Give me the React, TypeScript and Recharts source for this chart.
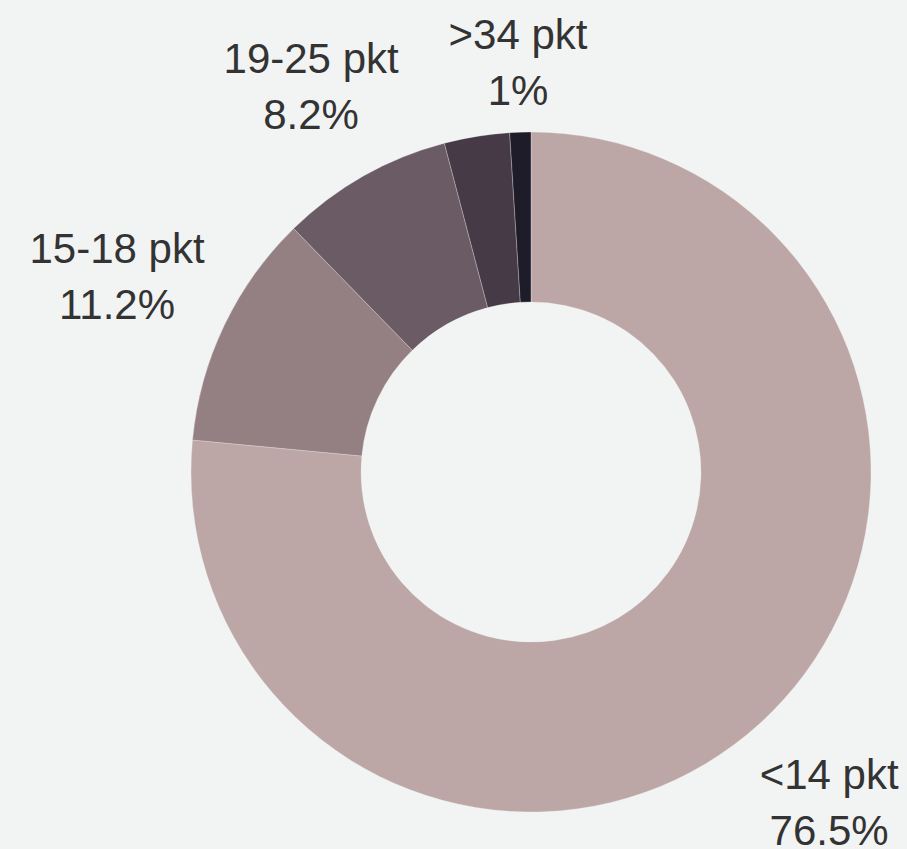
import React from 'react';
import { PieChart, Pie, Cell } from 'recharts';

const categories = ['<14 pkt', '15-18 pkt', '19-25 pkt', '26-34 pkt', '>34 pkt'];
const shares = [76.5, 11.2, 8.2, 3.1, 1];
const labelShown = [true, true, true, false, true];
const colors = ['#bda6a6', '#947f83', '#6b5b65', '#463a47', '#1e1c29'];

const data = categories.map((name, i) => ({ name, value: shares[i], show: labelShown[i], color: colors[i] }));

const FONT_SIZE = 42;
const LINE_H = 56;
const BG = '#f2f3f3';

const charW: Record<string, number> = {
  '0': 0.556, '1': 0.556, '2': 0.556, '3': 0.556, '4': 0.556, '5': 0.556, '6': 0.556, '7': 0.556, '8': 0.556, '9': 0.556,
  '-': 0.333, ' ': 0.278, p: 0.556, k: 0.5, t: 0.278, '<': 0.584, '>': 0.584, '.': 0.278, '%': 0.889,
};
const textWidth = (s: string) => s.split('').reduce((a, c) => a + (charW[c] ?? 0.556), 0) * FONT_SIZE;

const RAD = Math.PI / 180;

const renderLabel = (props: any) => {
  const { cx, cy, midAngle, outerRadius, name, value, index } = props;
  if (!data[index] || !data[index].show) return null;
  const ux = Math.cos(-midAngle * RAD);
  const uy = Math.sin(-midAngle * RAD);
  const l1 = String(name);
  const l2 = `${value}%`;
  const w = Math.max(textWidth(l1), textWidth(l2));
  const h = 106;
  const dist = outerRadius + 17 + (w / 2) * Math.abs(ux) + (h / 2) * Math.abs(uy);
  const x = cx + dist * ux;
  const y = cy + dist * uy + 2;
  return (
    <text
      x={x}
      y={y}
      textAnchor="middle"
      fill="#333333"
      fontFamily="'Liberation Sans', Arial, sans-serif"
      fontSize={FONT_SIZE}
    >
      <tspan x={x} y={y - LINE_H / 2 + 15}>{l1}</tspan>
      <tspan x={x} y={y + LINE_H / 2 + 15}>{l2}</tspan>
    </text>
  );
};

export default function App() {
  return (
    <div style={{ position: 'fixed', left: 0, top: 0, width: 907, height: 849, background: BG }}>
      <PieChart width={907} height={849} margin={{ top: 0, right: 0, bottom: 0, left: 0 }}>
        <Pie
          data={data}
          dataKey="value"
          nameKey="name"
          cx={531}
          cy={472}
          innerRadius={170}
          outerRadius={340}
          startAngle={90}
          endAngle={-270}
          stroke={BG}
          strokeWidth={0.3}
          label={renderLabel}
          labelLine={false}
          isAnimationActive={false}
        >
          {data.map((d, i) => (
            <Cell key={i} fill={d.color} />
          ))}
        </Pie>
      </PieChart>
    </div>
  );
}
